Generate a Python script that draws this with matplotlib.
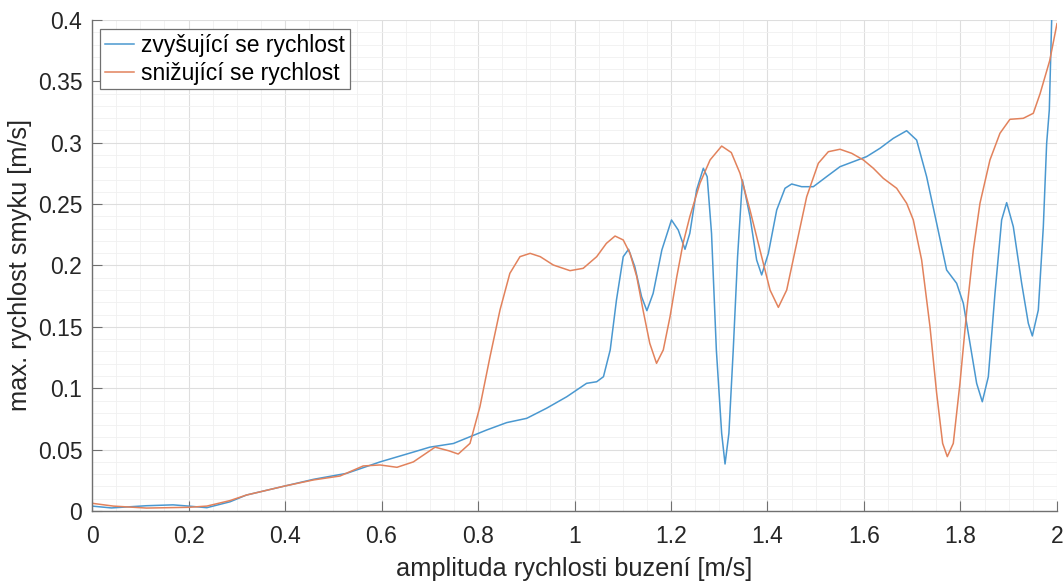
import numpy as np
import matplotlib.pyplot as plt
from matplotlib.ticker import MultipleLocator, FormatStrFormatter

plt.rcParams['font.family'] = ['Liberation Sans', 'DejaVu Sans']

# zvyšující se rychlost buzení
x_up = [0.0, 0.04, 0.113, 0.168, 0.2, 0.238, 0.286, 0.32, 0.4, 0.459, 0.528,
        0.597, 0.666, 0.70, 0.749, 0.7834, 0.818, 0.8594, 0.901, 0.942, 0.984,
        1.025, 1.046, 1.060, 1.074, 1.087, 1.101, 1.112, 1.125, 1.139, 1.150,
        1.163, 1.181, 1.201, 1.215, 1.229, 1.239, 1.253, 1.267, 1.275, 1.284,
        1.294, 1.305, 1.312, 1.320, 1.329, 1.338, 1.348, 1.3637, 1.3775,
        1.3879, 1.4018, 1.4191, 1.4363, 1.4501, 1.4708, 1.4950, 1.5226,
        1.5503, 1.5779, 1.6055, 1.6332, 1.6608, 1.6884, 1.7091, 1.7298,
        1.7506, 1.7713, 1.792, 1.8059, 1.8197, 1.8335, 1.8452, 1.8577,
        1.8715, 1.8853, 1.8957, 1.9095, 1.9268, 1.9406, 1.9489, 1.9613,
        1.9717, 1.9786, 1.9841, 1.989, 2.0]
v_up = [0.004, 0.0025, 0.0043, 0.005, 0.004, 0.0027, 0.0075, 0.013, 0.0204,
        0.0258, 0.0307, 0.040, 0.048, 0.052, 0.055, 0.0605, 0.066, 0.072,
        0.0755, 0.0837, 0.0931, 0.104, 0.1053, 0.1094, 0.1312, 0.172, 0.2072,
        0.2132, 0.199, 0.1746, 0.1632, 0.1773, 0.2126, 0.2371, 0.2289, 0.2132,
        0.2262, 0.2615, 0.2792, 0.2723, 0.2262, 0.1312, 0.0633, 0.0383, 0.0633,
        0.1312, 0.2072, 0.2697, 0.2398, 0.2045, 0.1923, 0.2099, 0.2452,
        0.2629, 0.2664, 0.2642, 0.2642, 0.2724, 0.2805, 0.2846, 0.2887,
        0.2955, 0.3036, 0.3098, 0.3022, 0.2724, 0.2344, 0.1963, 0.1855,
        0.1692, 0.1366, 0.104, 0.089, 0.1094, 0.1773, 0.2371, 0.2512, 0.2316,
        0.1855, 0.1529, 0.1426, 0.1637, 0.2316, 0.2995, 0.3267, 0.40, 0.55]

# snižující se rychlost buzení
x_down = [0.0, 0.044, 0.113, 0.2, 0.238, 0.286, 0.32, 0.4, 0.459, 0.514,
          0.562, 0.597, 0.632, 0.666, 0.711, 0.740, 0.759, 0.7834, 0.804,
          0.8249, 0.8456, 0.866, 0.887, 0.908, 0.929, 0.956, 0.9907, 1.018,
          1.046, 1.066, 1.084, 1.101, 1.115, 1.129, 1.142, 1.156, 1.170,
          1.184, 1.198, 1.212, 1.225, 1.239, 1.260, 1.281, 1.305, 1.325,
          1.343, 1.3637, 1.3844, 1.4053, 1.4225, 1.4398, 1.4605, 1.4812,
          1.5054, 1.5261, 1.5503, 1.5745, 1.5986, 1.6194, 1.6401, 1.6677,
          1.6884, 1.7022, 1.7195, 1.7368, 1.7506, 1.7630, 1.7727, 1.7851,
          1.7989, 1.8128, 1.8266, 1.8404, 1.8611, 1.8818, 1.9025, 1.9301,
          1.9509, 1.965, 1.985, 2.0]
v_down = [0.0063, 0.004, 0.0024, 0.003, 0.004, 0.0085, 0.013, 0.0204, 0.0253,
          0.0285, 0.0367, 0.0375, 0.0356, 0.040, 0.052, 0.049, 0.0464, 0.0551,
          0.085, 0.1257, 0.1638, 0.1936, 0.2072, 0.2099, 0.2072, 0.2004,
          0.1958, 0.1977, 0.2072, 0.218, 0.224, 0.2208, 0.2099, 0.1909, 0.1638,
          0.1366, 0.1203, 0.1312, 0.1583, 0.1909, 0.218, 0.2398, 0.267, 0.286,
          0.2973, 0.292, 0.2751, 0.2452, 0.2126, 0.18, 0.1659, 0.18, 0.2181,
          0.256, 0.2833, 0.2927, 0.2947, 0.2914, 0.286, 0.2792, 0.271, 0.2629,
          0.2507, 0.2371, 0.2045, 0.1501, 0.0959, 0.0551, 0.0443, 0.0551, 0.104,
          0.1623, 0.2126, 0.2507, 0.286, 0.3077, 0.3191, 0.3199, 0.324, 0.340,
          0.367, 0.397]

fig = plt.figure(figsize=(10.64, 5.83), dpi=100)
ax = fig.add_axes([0.0865, 0.1235, 0.9069, 0.8422])

ax.plot(x_up, v_up, color='#4a98d0', lw=1.1, label='zvyšující se rychlost')
ax.plot(x_down, v_down, color='#e2825c', lw=1.1, label='snižující se rychlost')

ax.set_xlim(0, 2)
ax.set_ylim(0, 0.4)
ax.xaxis.set_major_locator(MultipleLocator(0.2))
ax.xaxis.set_minor_locator(MultipleLocator(0.05))
ax.yaxis.set_major_locator(MultipleLocator(0.05))
ax.yaxis.set_minor_locator(MultipleLocator(0.01))
ax.xaxis.set_major_formatter(FormatStrFormatter('%g'))
ax.yaxis.set_major_formatter(FormatStrFormatter('%g'))

ax.grid(True, which='major', color='#dedede', lw=0.8)
ax.grid(True, which='minor', color='#f0f0f0', lw=0.6)
ax.set_axisbelow(True)

for side in ['top', 'right']:
    ax.spines[side].set_visible(False)
for side in ['left', 'bottom']:
    ax.spines[side].set_color('#707070')
    ax.spines[side].set_linewidth(1.0)

ax.tick_params(which='major', direction='in', length=7, colors='#707070',
               labelcolor='#262626', labelsize=16.5)
ax.tick_params(which='minor', length=0)
ax.tick_params(axis='x', pad=10)
ax.tick_params(axis='y', pad=7)

ax.set_xlabel('amplituda rychlosti buzení [m/s]', fontsize=18.3, color='#262626')
ax.set_ylabel('max. rychlost smyku [m/s]', fontsize=18.3, color='#262626')
ax.xaxis.set_label_coords(0.5, -0.093)
ax.yaxis.set_label_coords(-0.062, 0.5)

leg = ax.legend(loc='upper left', bbox_to_anchor=(0.0083, 0.9817),
                borderaxespad=0, fontsize=16.5, handlelength=1.3,
                fancybox=False, framealpha=1, handletextpad=0.3,
                borderpad=0.2, labelspacing=0.22)
leg.get_frame().set_edgecolor('#707070')
leg.get_frame().set_linewidth(0.9)

fig.savefig('out.png', dpi=100)
